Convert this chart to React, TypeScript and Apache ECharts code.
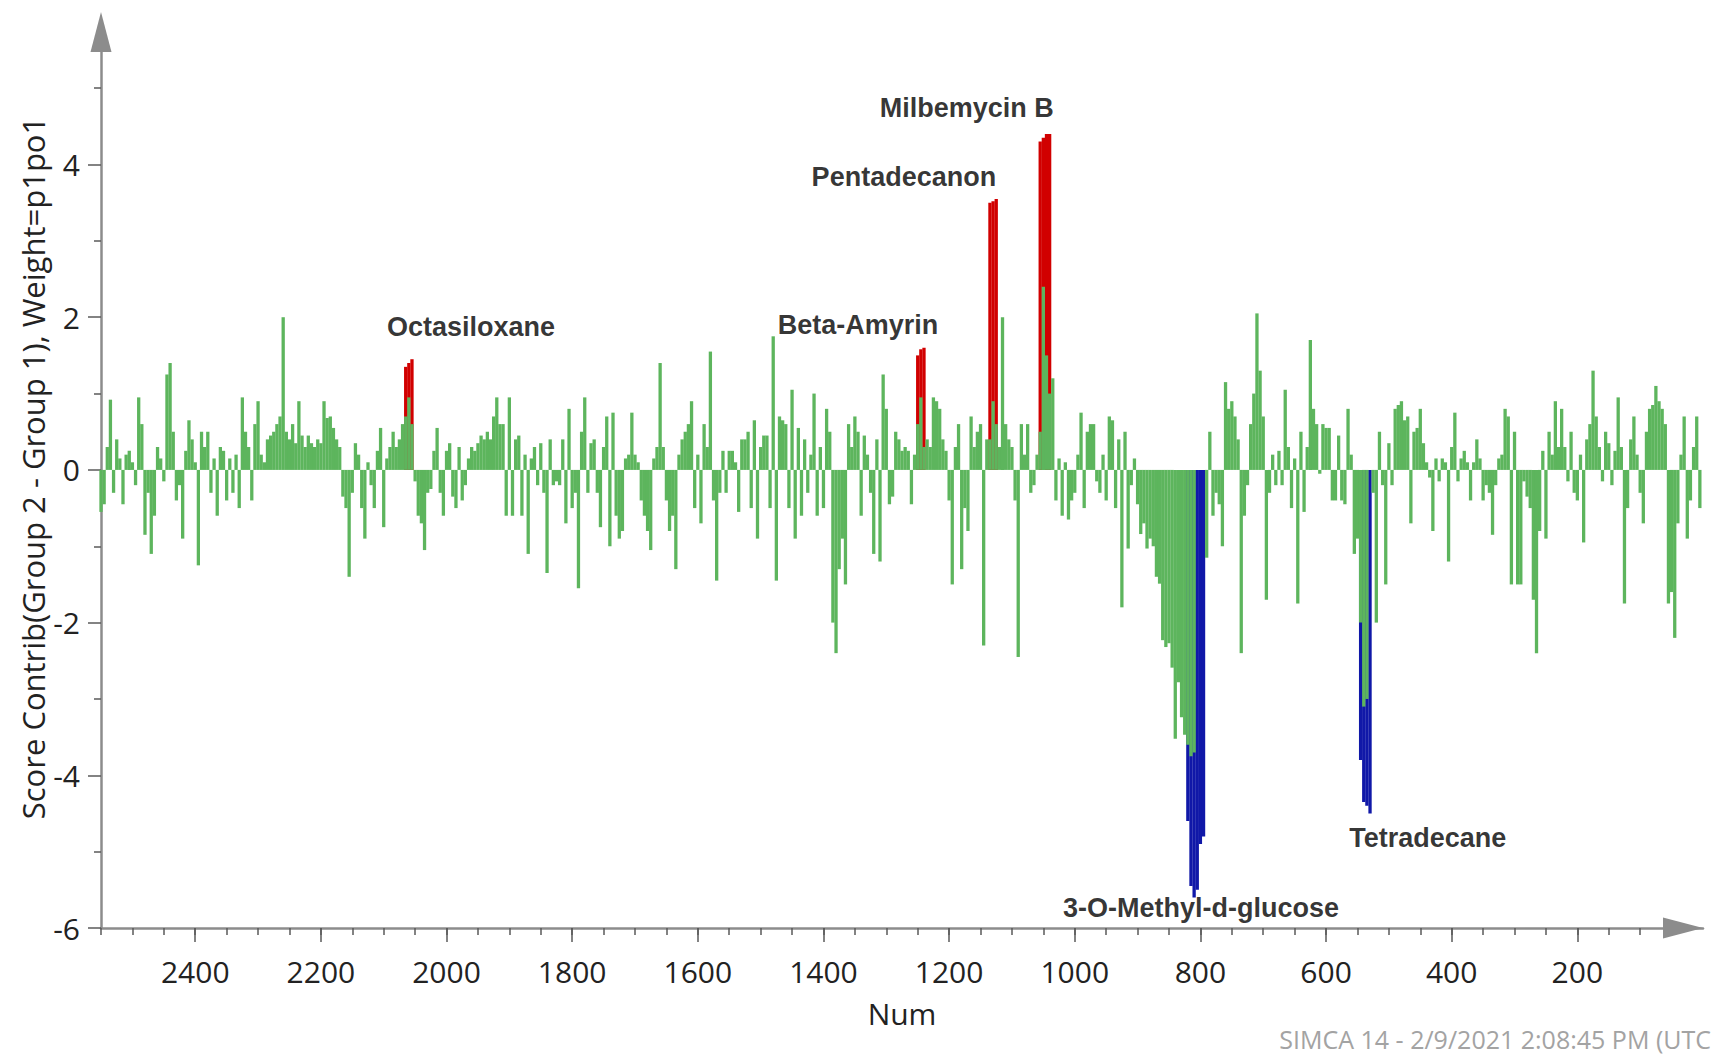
import React, { useEffect, useRef } from "react";
import * as echarts from "echarts";

// Score contributions, one value every 5 "Num" units, from Num 2550 down to Num 5
const FIRST_NUM = 2550;
const NUM_STEP = 5;
const contrib: number[] = [
  // 2550 - 2505
  -0.55, -0.45, 0.3, 0.92, -0.3, 0.4, 0.15, -0.45, 0.2, 0.25,
  // 2500 - 2455
  0.1, -0.2, 0.95, 0.6, -0.85, -0.3, -1.1, -0.6, 0.3, 0.15,
  // 2450 - 2405
  -0.15, 1.25, 1.4, 0.5, -0.4, -0.2, -0.9, 0.25, 0.65, 0.4,
  // 2400 - 2355
  0.1, -1.25, 0.5, 0.3, 0.5, -0.3, 0.15, -0.6, 0.3, 0.25,
  // 2350 - 2305
  -0.4, 0.15, -0.3, 0.2, -0.5, 0.95, 0.5, 0.3, -0.4, 0.6,
  // 2300 - 2255
  0.9, 0.2, 0.1, 0.4, 0.45, 0.5, 0.6, 0.7, 2.0, 0.5,
  // 2250 - 2205
  0.4, 0.6, 0.35, 0.9, 0.45, 0.3, 0.45, 0.35, 0.3, 0.4,
  // 2200 - 2155
  0.35, 0.9, 0.68, 0.7, 0.55, 0.4, 0.3, -0.35, -0.5, -1.4,
  // 2150 - 2105
  -0.3, 0.35, 0.2, -0.5, -0.9, 0.1, -0.2, -0.5, 0.25, 0.55,
  // 2100 - 2055
  -0.75, 0.15, 0.3, 0.5, 0.3, 0.4, 0.6, 0.7, 0.95, 0.6,
  // 2050 - 2005
  -0.15, -0.6, -0.7, -1.05, -0.3, -0.25, 0.25, 0.55, -0.3, -0.6,
  // 2000 - 1955
  0.25, 0.35, -0.35, -0.5, 0.3, -0.4, -0.2, 0.15, 0.3, 0.25,
  // 1950 - 1905
  0.35, 0.45, 0.4, 0.5, 0.4, 0.7, 0.95, 0.6, 0.6, -0.6,
  // 1900 - 1855
  0.95, -0.6, 0.4, 0.45, -0.6, 0.2, -1.1, 0.15, 0.3, -0.2,
  // 1850 - 1805
  0.35, -0.3, -1.35, 0.4, -0.2, -0.15, -0.2, 0.4, -0.7, 0.8,
  // 1800 - 1755
  -0.5, -0.3, -1.55, 0.5, 0.95, -0.3, 0.35, 0.4, -0.3, -0.75,
  // 1750 - 1705
  0.3, 0.7, -1.0, 0.75, -0.6, -0.9, -0.8, 0.15, 0.2, 0.75,
  // 1700 - 1655
  0.2, 0.1, -0.4, -0.6, -0.8, -1.05, 0.15, 0.3, 1.4, 0.3,
  // 1650 - 1605
  -0.4, -0.8, -0.6, -1.3, 0.2, 0.4, 0.5, 0.6, 0.9, -0.5,
  // 1600 - 1555
  0.2, -0.7, 0.6, 0.3, 1.55, -0.4, -1.45, -0.3, 0.25, -0.3,
  // 1550 - 1505
  0.25, 0.25, 0.1, -0.55, 0.4, 0.4, 0.5, -0.5, 0.65, -0.9,
  // 1500 - 1455
  0.3, 0.45, 0.45, -0.5, 1.75, -1.45, 0.7, 0.65, 0.6, -0.5,
  // 1450 - 1405
  1.05, -0.9, 0.55, -0.6, 0.4, -0.3, 0.2, 1.0, -0.6, 0.3,
  // 1400 - 1355
  -0.5, 0.8, 0.5, -2.0, -2.4, -1.3, -0.9, -1.5, 0.6, 0.3,
  // 1350 - 1305
  0.7, 0.5, -0.6, 0.45, 0.2, -0.3, -1.1, 0.4, -1.2, 1.25,
  // 1300 - 1255
  0.8, -0.45, -0.35, 0.5, 0.4, 0.25, 0.3, 0.25, -0.45, 0.2,
  // 1250 - 1205
  0.6, 0.95, 0.3, 0.4, 0.3, 0.95, 0.9, 0.8, 0.4, 0.25,
  // 1200 - 1155
  -0.4, -1.5, 0.3, 0.6, -1.3, -0.5, -0.8, 0.7, 0.3, 0.5,
  // 1150 - 1105
  0.6, -2.3, 0.4, 0.4, 0.9, 0.6, 0.3, 2.0, 0.6, 0.4,
  // 1100 - 1055
  0.3, -0.4, -2.45, 0.6, 0.2, 0.6, -0.3, -0.2, 0.2, 0.5,
  // 1050 - 1005
  2.4, 1.5, 1.0, 1.2, -0.4, 0.15, -0.6, 0.1, -0.65, -0.4,
  // 1000 - 955
  -0.3, 0.2, 0.75, -0.5, 0.5, 0.6, 0.6, -0.15, -0.3, 0.2,
  // 950 - 905
  -0.4, 0.7, 0.65, -0.5, 0.4, -1.8, 0.5, -1.03, -0.2, 0.15,
  // 900 - 855
  -0.45, -0.84, -0.7, -1.03, -0.9, -1.0, -1.4, -1.49, -2.23, -2.32,
  // 850 - 805
  -2.27, -2.59, -3.52, -2.78, -3.24, -3.47, -3.6, -3.75, -3.7, 0,
  // 800 - 755
  0, 0, -1.15, 0.5, -0.6, -0.3, -0.45, -1.0, 1.15, 0.8,
  // 750 - 705
  0.9, 0.7, 0.4, -2.4, -0.6, -0.2, 0.6, 1.0, 2.05, 1.3,
  // 700 - 655
  0.7, -1.7, -0.3, 0.2, -0.2, 0.25, -0.2, 1.05, 0.3, -0.5,
  // 650 - 605
  0.15, -1.75, 0.5, -0.55, 0.3, 1.7, 0.8, 0.6, -0.05, 0.6,
  // 600 - 555
  0.55, 0.55, -0.4, -0.4, 0.45, -0.4, -0.45, 0.8, 0.2, -1.1,
  // 550 - 505
  -0.9, -2.0, -3.1, -3.0, 0, -0.3, -2.0, 0.5, -0.2, -1.5,
  // 500 - 455
  0.35, -0.2, 0.8, 0.85, 0.9, 0.65, 0.7, -0.7, 0.5, 0.55,
  // 450 - 405
  0.8, 0.35, 0.1, -0.1, -0.8, 0.15, -0.15, 0.15, 0.1, -1.2,
  // 400 - 355
  0.3, 0.75, -0.15, 0.15, 0.25, 0.1, -0.4, 0.1, 0.4, 0.15,
  // 350 - 305
  -0.4, -0.2, -0.3, -0.85, -0.2, 0.15, 0.2, 0.8, 0.7, -1.5,
  // 300 - 255
  0.5, -1.5, -1.5, -0.15, -0.35, -0.5, -1.7, -2.4, -0.8, 0.25,
  // 250 - 205
  -0.9, 0.5, 0.2, 0.9, 0.3, 0.8, 0.3, -0.15, 0.5, -0.3,
  // 200 - 155
  -0.4, 0.2, -0.95, 0.4, 0.6, 1.3, 0.7, 0.3, -0.15, 0.5,
  // 150 - 105
  0.35, -0.2, 0.25, 0.95, 0.3, -1.75, -0.5, 0.4, 0.7, 0.2,
  // 100 - 55
  -0.3, -0.7, 0.5, 0.8, 0.85, 1.1, 0.9, 0.8, 0.6, -1.75,
  // 50 - 5
  -1.6, -2.2, -0.7, 0.2, 0.7, -0.9, -0.4, 0.3, 0.7, -0.5,
];

// highlighted variables (positive, red)
const redPeaks: [number, number][] = [
  [2065, 1.35], [2060, 1.4], [2055, 1.45],
  [1250, 1.5], [1245, 1.58], [1240, 1.6],
  [1135, 3.5], [1130, 3.52], [1125, 3.55],
  [1055, 4.3], [1050, 4.35], [1045, 4.4], [1040, 4.4],
];

// highlighted variables (negative, blue)
const bluePeaks: [number, number][] = [
  [820, -4.6], [815, -5.45], [810, -5.6], [805, -5.5], [800, -4.9], [795, -4.8],
  [545, -3.8], [540, -4.35], [535, -4.4], [530, -4.5],
];

const compoundLabels = [
  { name: "Octasiloxane", num: 1961, value: 1.87 },
  { name: "Beta-Amyrin", num: 1345, value: 1.9 },
  { name: "Pentadecanon", num: 1272, value: 3.84 },
  { name: "Milbemycin B", num: 1172, value: 4.74 },
  { name: "3-O-Methyl-d-glucose", num: 799, value: -5.74 },
  { name: "Tetradecane", num: 438, value: -4.82 },
];

const xMajorTicks = [2400, 2200, 2000, 1800, 1600, 1400, 1200, 1000, 800, 600, 400, 200];
const yMajorTicks = [-6, -4, -2, 0, 2, 4];
const yMinorTicks = [-5, -3, -1, 1, 3, 5];
const X_MIN = 0;
const X_MAX = 2550;
const Y_MIN = -6;
const Y_MAX = 5.5;

const xMinorTicks: number[] = [];
for (let v = 50; v <= X_MAX; v += 50) xMinorTicks.push(v);

const Y_TITLE = "Score Contrib(Group 2 - Group 1), Weight=p1po1";
const X_TITLE = "Num";
const FOOTER = "SIMCA 14 - 2/9/2021 2:08:45 PM (UTC";

const GREEN = "#5db55d";
const RED = "#d10000";
const BLUE = "#1018a8";

export default function App() {
  const ref = useRef<HTMLDivElement>(null);

  useEffect(() => {
    if (!ref.current) return;
    const chart = echarts.init(ref.current, undefined, { renderer: "svg" });

    const greenData = contrib.map((v, i) => [FIRST_NUM - i * NUM_STEP, v]);

    const axisLineStyle = { color: "#8c8c8c", width: 2.5 };
    const tickStyle = { color: "#5a5a5a", width: 1.5 };
    const labelStyle = { fontSize: 30, color: "#222", fontFamily: "Open Sans" };

    const barCommon = {
      type: "bar" as const,
      xAxisIndex: 0,
      yAxisIndex: 0,
      barWidth: 3.3,
      barGap: "-100%",
      silent: true,
    };

    chart.setOption({
      animation: false,
      textStyle: { fontFamily: "Open Sans" },
      grid: { left: 101, right: 12, top: 50, bottom: 127, containLabel: false },
      xAxis: [
        {
          type: "value",
          position: "bottom",
          inverse: true,
          min: X_MIN,
          max: X_MAX,
          name: X_TITLE,
          nameLocation: "middle",
          nameGap: 70,
          nameTextStyle: labelStyle,
          axisLine: {
            show: true,
            onZero: false,
            lineStyle: axisLineStyle,
            symbol: ["none", "triangle"],
            symbolSize: [21, 40],
            symbolOffset: [0, -20],
          },
          axisTick: { show: true, length: 14, lineStyle: tickStyle, customValues: xMajorTicks },
          axisLabel: {
            show: true,
            customValues: xMajorTicks,
            margin: 28,
            formatter: (v: number) => String(v),
            ...labelStyle,
          },
          splitLine: { show: false },
        },
        {
          type: "value",
          position: "bottom",
          inverse: true,
          min: X_MIN,
          max: X_MAX,
          axisLine: { show: false, onZero: false },
          axisTick: { show: true, length: 7, lineStyle: tickStyle, customValues: xMinorTicks },
          axisLabel: { show: false },
          splitLine: { show: false },
        },
      ],
      yAxis: [
        {
          type: "value",
          position: "left",
          min: Y_MIN,
          max: Y_MAX,
          axisLine: {
            show: true,
            onZero: false,
            lineStyle: axisLineStyle,
            symbol: ["none", "triangle"],
            symbolSize: [21, 40],
            symbolOffset: [0, 18],
          },
          axisTick: { show: true, length: 13, lineStyle: tickStyle, customValues: yMajorTicks },
          axisLabel: {
            show: true,
            customValues: yMajorTicks,
            margin: 21,
            formatter: (v: number) => String(v),
            ...labelStyle,
          },
          splitLine: { show: false },
        },
        {
          type: "value",
          position: "left",
          min: Y_MIN,
          max: Y_MAX,
          axisLine: { show: false, onZero: false },
          axisTick: { show: true, length: 7, lineStyle: tickStyle, customValues: yMinorTicks },
          axisLabel: { show: false },
          splitLine: { show: false },
        },
      ],
      series: [
        { ...barCommon, name: "red", data: redPeaks, itemStyle: { color: RED } },
        { ...barCommon, name: "blue", data: bluePeaks, itemStyle: { color: BLUE } },
        { ...barCommon, name: "contrib", data: greenData, itemStyle: { color: GREEN } },
        {
          type: "scatter",
          xAxisIndex: 0,
          yAxisIndex: 0,
          symbolSize: 1,
          silent: true,
          itemStyle: { color: "rgba(0,0,0,0)" },
          data: compoundLabels.map((c) => ({ name: c.name, value: [c.num, c.value] })),
          label: {
            show: true,
            position: "inside",
            formatter: (p: any) => p.name,
            fontFamily: "Liberation Sans",
            fontWeight: "bold",
            fontSize: 27,
            color: "#000",
          },
          z: 10,
        },
      ],
      graphic: [
        {
          type: "text",
          x: 33,
          y: 468,
          rotation: Math.PI / 2,
          silent: true,
          style: {
            text: Y_TITLE,
            font: '31px "Open Sans"',
            fill: "#222",
            textAlign: "center",
            textVerticalAlign: "middle",
          },
        },
        {
          type: "text",
          x: 1711,
          y: 1039,
          silent: true,
          style: {
            text: FOOTER,
            font: '25px "Open Sans"',
            fill: "#a3a3a3",
            textAlign: "right",
            textVerticalAlign: "middle",
          },
        },
      ],
    });

    return () => chart.dispose();
  }, []);

  return (
    <div
      ref={ref}
      style={{ position: "fixed", left: 0, top: 0, width: 1715, height: 1055, background: "#fff" }}
    />
  );
}
